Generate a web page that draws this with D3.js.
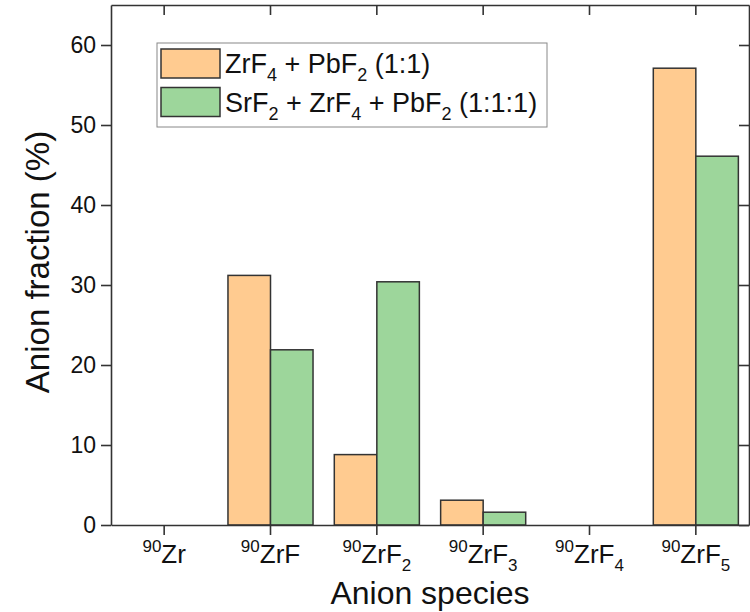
<!DOCTYPE html>
<html>
<head>
<meta charset="utf-8">
<script src="https://cdn.jsdelivr.net/npm/d3@7"></script>
<style>
  body { margin: 0; background: #fff; }
  svg { font-family: Arial, "Liberation Sans", sans-serif; }
</style>
</head>
<body>
<div id="chart"></div>
<script>
// data
var categories = ["^{90}Zr", "^{90}ZrF", "^{90}ZrF_{2}", "^{90}ZrF_{3}", "^{90}ZrF_{4}", "^{90}ZrF_{5}"];
var seriesNames = ["ZrF_{4} + PbF_{2} (1:1)", "SrF_{2} + ZrF_{4} + PbF_{2} (1:1:1)"];
var zrPb = [0, 31.2, 8.8, 3.1, 0, 57.1];       // ZrF4 + PbF2
var srZrPb = [0, 21.9, 30.4, 1.6, 0, 46.1];    // SrF2 + ZrF4 + PbF2
var yTicks = [0, 10, 20, 30, 40, 50, 60];
var colors = ["#FFCB90", "#9DD69B"];

var w = 750, h = 612;
var margin = { top: 5, right: 1, bottom: 87, left: 111 };
var width = w - margin.left - margin.right;
var height = h - margin.top - margin.bottom;

// writes "^{..}" as superscript and "_{..}" as subscript
function richText(sel, str, size, small) {
    var parts = str.match(/\^\{[^}]*\}|_\{[^}]*\}|[^^_]+/g);
    var shift = 0;
    parts.forEach(function(p) {
        var t = sel.append("tspan");
        var target = 0;
        if (p[0] === "^") { target = -size * 0.42; p = p.slice(2, -1); t.style("font-size", small + "px"); }
        else if (p[0] === "_") { target = size * 0.3; p = p.slice(2, -1); t.style("font-size", small + "px"); }
        t.attr("dy", target - shift).text(p);
        shift = target;
    });
}

var svg = d3.select("#chart")
    .append("svg")
    .attr("width", w)
    .attr("height", h)
    .append("g")
    .attr("transform", "translate(" + margin.left + "," + margin.top + ")");

var x0 = d3.scaleBand().domain(categories).range([0, width]).padding(0);
var x1 = d3.scaleBand().domain([0, 1]).range([0, x0.bandwidth()]).paddingInner(0).paddingOuter(0.25);
var y = d3.scaleLinear().domain([0, 65]).range([height, 0]);

var rows = categories.map(function(c, i) { return { cat: c, vals: [zrPb[i], srZrPb[i]] }; });

var groups = svg.append("g")
    .selectAll("g")
    .data(rows)
    .enter()
    .append("g")
    .attr("transform", d => "translate(" + x0(d.cat) + ",0)");

groups.selectAll("rect")
    .data(d => d.vals.map((v, k) => ({ k: k, v: v })))
    .enter()
    .append("rect")
    .attr("x", d => x1(d.k))
    .attr("y", d => y(d.v))
    .attr("width", x1.bandwidth())
    .attr("height", d => height - y(d.v))
    .style("fill", d => colors[d.k])
    .style("stroke", "#333")
    .style("stroke-width", 1.5);

// axes - bottom/left have labels, top/right are the frame with inward ticks
var xAxis = svg.append("g")
    .attr("transform", "translate(0," + height + ")")
    .call(d3.axisBottom(x0).tickSize(10).tickSizeOuter(0));
xAxis.selectAll(".tick text").each(function(d) {
    var t = d3.select(this).text("").attr("y", 38).attr("dy", null).style("font-size", "26px");
    richText(t, d, 26, 17);
});

var yAxis = svg.append("g")
    .call(d3.axisLeft(y).tickValues(yTicks).tickSize(10).tickPadding(5).tickSizeOuter(0));
yAxis.selectAll(".tick text").style("font-size", "23px");

svg.append("g")
    .call(d3.axisBottom(x0).tickSize(10).tickFormat("").tickSizeOuter(0));
svg.append("g")
    .attr("transform", "translate(" + width + ",0)")
    .call(d3.axisLeft(y).tickValues(yTicks).tickSize(10).tickFormat("").tickSizeOuter(0));

svg.selectAll(".domain, .tick line")
    .style("stroke", "#333")
    .style("stroke-width", 1.6);
svg.selectAll(".tick text").style("fill", "#111");

// axis titles
svg.append("text")
    .attr("x", width / 2)
    .attr("y", height + 79)
    .attr("text-anchor", "middle")
    .style("font-size", "32px")
    .style("fill", "#111")
    .text("Anion species");

svg.append("text")
    .attr("transform", "translate(" + (-62) + "," + (height / 2 - 3) + ") rotate(-90)")
    .attr("text-anchor", "middle")
    .style("font-size", "33px")
    .style("fill", "#111")
    .text("Anion fraction (%)");

// legend
var legend = svg.append("g")
    .attr("transform", "translate(" + (157 - margin.left) + "," + (43 - margin.top) + ")");

legend.append("rect")
    .attr("width", 390)
    .attr("height", 84)
    .style("fill", "#fff")
    .style("stroke", "#888")
    .style("stroke-width", 1);

seriesNames.forEach(function(name, i) {
    legend.append("rect")
        .attr("x", 4)
        .attr("y", 6 + i * 38.5)
        .attr("width", 59)
        .attr("height", 29)
        .style("fill", colors[i])
        .style("stroke", "#333")
        .style("stroke-width", 1.5);
    var t = legend.append("text")
        .attr("x", 68)
        .attr("y", 30 + i * 38.5)
        .style("font-size", "27px")
        .style("fill", "#111");
    richText(t, name, 27, 18);
});
</script>
</body>
</html>
